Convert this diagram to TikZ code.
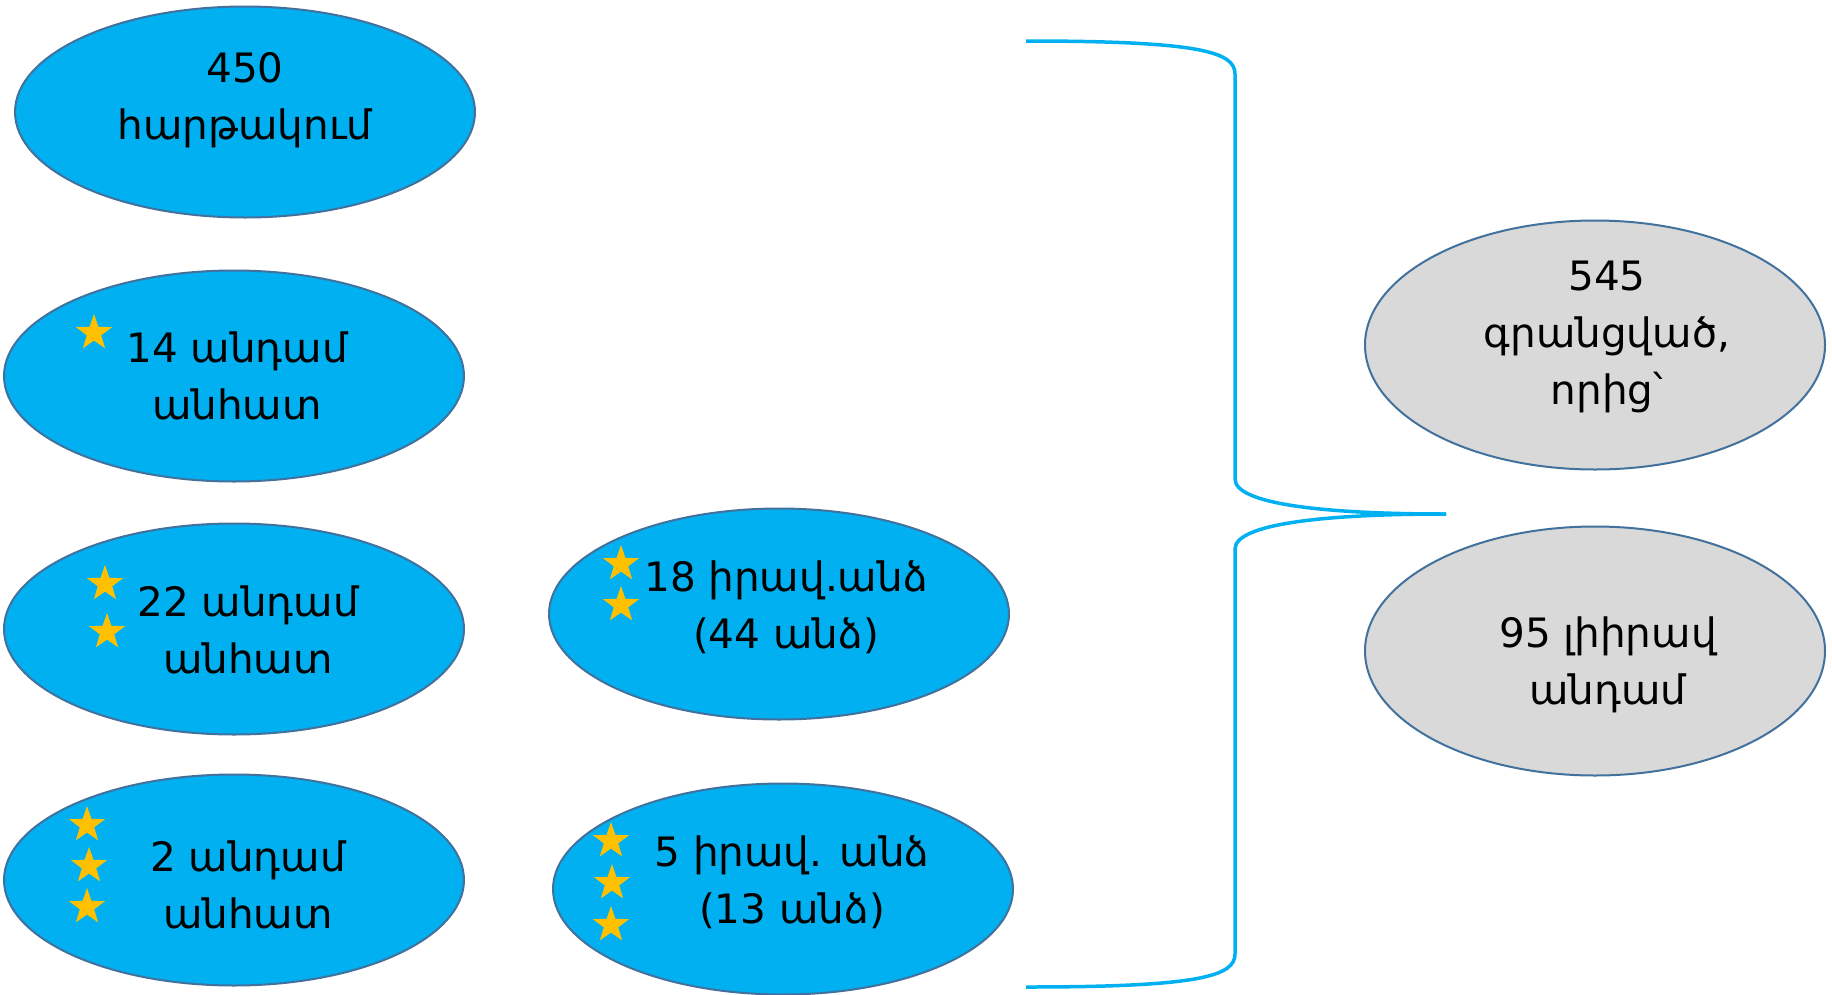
\documentclass[tikz,border=0pt]{standalone}
\usepackage{fontspec}
\setmainfont{DejaVu Sans}
\usetikzlibrary{shapes.geometric}
\definecolor{cyanfill}{HTML}{00B0F0}
\definecolor{ellborder}{HTML}{41719C}
\definecolor{grayfill}{HTML}{D9D9D9}
\definecolor{stargold}{HTML}{FFC000}
\tikzset{
  blueell/.style={ellipse, draw=ellborder, line width=2pt, fill=cyanfill, minimum width=460pt, minimum height=211pt, inner sep=0pt},
  grayell/.style={ellipse, draw=ellborder, line width=2pt, fill=grayfill, minimum width=460pt, minimum height=249pt, inner sep=0pt},
  txt/.style={align=center, font=\fontsize{40.5}{57}\selectfont, inner sep=0pt},
  gstar/.style={star, star points=5, star point ratio=2.5, fill=stargold, draw=none, minimum size=38pt, inner sep=0pt},
  bracel/.style={draw=cyanfill, line width=3.5pt}
}
\begin{document}
\begin{tikzpicture}[x=1pt,y=-1pt]
\useasboundingbox (0,0) rectangle (1832,994);
% ellipses
\node[blueell] (e1) at (245,112) {};
\node[blueell] (e2) at (234,376) {};
\node[blueell] (e3) at (234,629) {};
\node[blueell] (e4) at (234,880) {};
\node[blueell] (e5) at (779,614) {};
\node[blueell] (e6) at (783,889) {};
\node[grayell] (e7) at (1595,345) {};
\node[grayell] (e8) at (1595,651) {};
% texts
\node[txt] (t1) at (245,100) {450\\հարթակում};
\node[txt] (t2) at (237,376) {14 անդամ\\անհատ};
\node[txt] (t3) at (248,630) {22 անդամ\\անհատ};
\node[txt] (t4) at (248,885) {2 անդամ\\անհատ};
\node[txt] (t5) at (786,607) {18 իրավ.անձ\\(44 անձ)};
\node[txt] (t6) at (792,882) {5 իրավ. անձ\\(13 անձ)};
\node[txt] (t7) at (1607,337) {545\\գրանցված,\\որից՝};
\node[txt] (t8) at (1608,665) {95 լիիրավ\\անդամ};
% stars
\node[gstar] (s21) at (94,333) {};
\node[gstar] (s31) at (105,584) {};
\node[gstar] (s32) at (107,632) {};
\node[gstar] (s41) at (87,825) {};
\node[gstar] (s42) at (89,866) {};
\node[gstar] (s43) at (87,907) {};
\node[gstar] (s51) at (621,564) {};
\node[gstar] (s52) at (621,605) {};
\node[gstar] (s61) at (611,841) {};
\node[gstar] (s62) at (612,883) {};
\node[gstar] (s63) at (611,925) {};
% brace
\coordinate (btop) at (1026,41);
\coordinate (bbot) at (1026,987);
\coordinate (btip) at (1446,514);
\draw[bracel] (btop) .. controls (1200,41) and (1235,52) .. (1235,74)
  -- (1235,479) .. controls (1235,505) and (1330,514) .. (btip);
\draw[bracel] (btip) .. controls (1330,514) and (1235,523) .. (1235,549)
  -- (1235,954) .. controls (1235,976) and (1200,987) .. (bbot);
\end{tikzpicture}
\end{document}
